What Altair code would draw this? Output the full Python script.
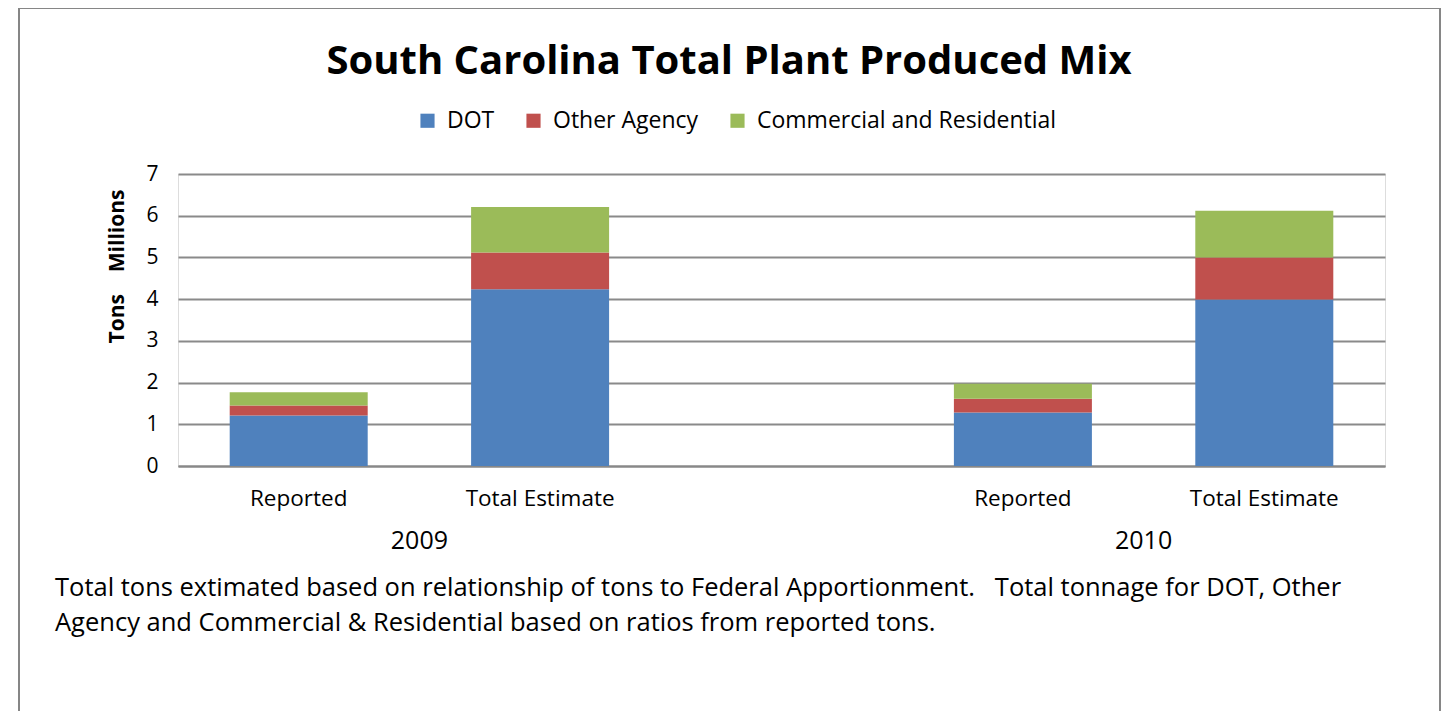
import altair as alt
import pandas as pd

# ---- data ----
years = ["2009", "2009", "2010", "2010"]
stages = ["Reported", "Total Estimate", "Reported", "Total Estimate"]
series = ["DOT", "Other Agency", "Commercial and Residential"]
dot = [1.21, 4.24, 1.28, 3.99]
other = [0.24, 0.88, 0.33, 1.01]
comm = [0.32, 1.09, 0.36, 1.12]
colors = ["#4F81BD", "#C0504D", "#9BBB59"]
y_ticks = [0, 1, 2, 3, 4, 5, 6, 7]
title_text = "South Carolina Total Plant Produced Mix"
note_lines = [
    "Total tons extimated based on relationship of tons to Federal Apportionment.\u00a0\u00a0 Total tonnage for DOT, Other",
    "Agency and Commercial & Residential based on ratios from reported tons.",
]

FONT = "Open Sans"
W, H = 1207, 292

rows = []
for i in range(len(years)):
    for k, (name, vals) in enumerate(zip(series, [dot, other, comm])):
        rows.append({"slot": f"{years[i]} {stages[i]}", "series": name,
                     "order": k, "value": vals[i]})
df = pd.DataFrame(rows)
slot_domain = ["2009 Reported", "2009 Total Estimate", "gap",
               "2010 Reported", "2010 Total Estimate"]

step = W / len(slot_domain)

x_enc = alt.X("slot:N", scale=alt.Scale(domain=slot_domain, paddingInner=0.43, paddingOuter=0.215),
              axis=alt.Axis(title=None, labelAngle=0, labelFontSize=22.5, labelFont=FONT,
                            labelColor="#000", labelPadding=21, ticks=False,
                            domainColor="#888", domainWidth=2,
                            labelExpr="datum.label == 'gap' ? '' : substring(datum.label, 5)"))

bars = alt.Chart(df).mark_bar(size=138).encode(
    x=x_enc,
    y=alt.Y("sum(value):Q", scale=alt.Scale(domain=[0, 7]),
            axis=alt.Axis(values=y_ticks, title="Tons\u00a0\u00a0\u00a0\u00a0Millions",
                          titleFont=FONT, titleFontSize=21, titleFontWeight="bold",
                          titleColor="#000", titleAngle=270, titleX=-61, titleY=92,
                          titleAlign="center", titleBaseline="middle",
                          labelFontSize=21, labelFont=FONT, labelColor="#000",
                          labelPadding=20, ticks=False, domain=False,
                          gridColor="#8a8a8a", gridWidth=1.8)),
    color=alt.Color("series:N", scale=alt.Scale(domain=series, range=colors),
                    legend=alt.Legend(title=None, orient="none", direction="horizontal",
                                      legendX=238, legendY=-65, symbolType="square",
                                      symbolSize=200, symbolStrokeWidth=0, labelLimit=0,
                                      labelFontSize=23, labelFont=FONT, labelColor="#000",
                                      columnPadding=27, labelOffset=8)),
    order=alt.Order("order:Q", sort="ascending"),
)

year_df = pd.DataFrame({"slot": ["2009 Reported", "2010 Reported"], "year": ["2009", "2010"]})
year_labels = alt.Chart(year_df).mark_text(
    font=FONT, fontSize=25, color="#000", dx=step / 2, baseline="middle"
).encode(x=alt.X("slot:N"), y=alt.value(H + 75), text="year:N")

title_df = pd.DataFrame({"t": [title_text]})
title = alt.Chart(title_df).mark_text(
    font=FONT, fontSize=40, fontWeight="bold", color="#000", baseline="middle"
).encode(x=alt.value(551), y=alt.value(-112), text="t:N")

note_df = pd.DataFrame({"t": [note_lines]})
note = alt.Chart(note_df).mark_text(
    font=FONT, fontSize=25.5, color="#000", align="left", baseline="middle", lineHeight=35
).encode(x=alt.value(-123), y=alt.value(414), text="t")

frame_df = pd.DataFrame({"a": [0]})
frame = alt.Chart(frame_df).mark_rect(fill=None, stroke="#868686", strokeWidth=2).encode(
    x=alt.value(-159), x2=alt.value(1262), y=alt.value(-166), y2=alt.value(560))

chart = alt.layer(frame, bars, year_labels, title, note).properties(
    width=W, height=H,
    padding={"left": 170, "top": 166, "right": 60, "bottom": 245},
    autosize=alt.AutoSizeParams(type="none"),
).configure_view(stroke=None).configure(background="white")

chart.save("out.html", embed_options={"renderer": "svg", "actions": False})
